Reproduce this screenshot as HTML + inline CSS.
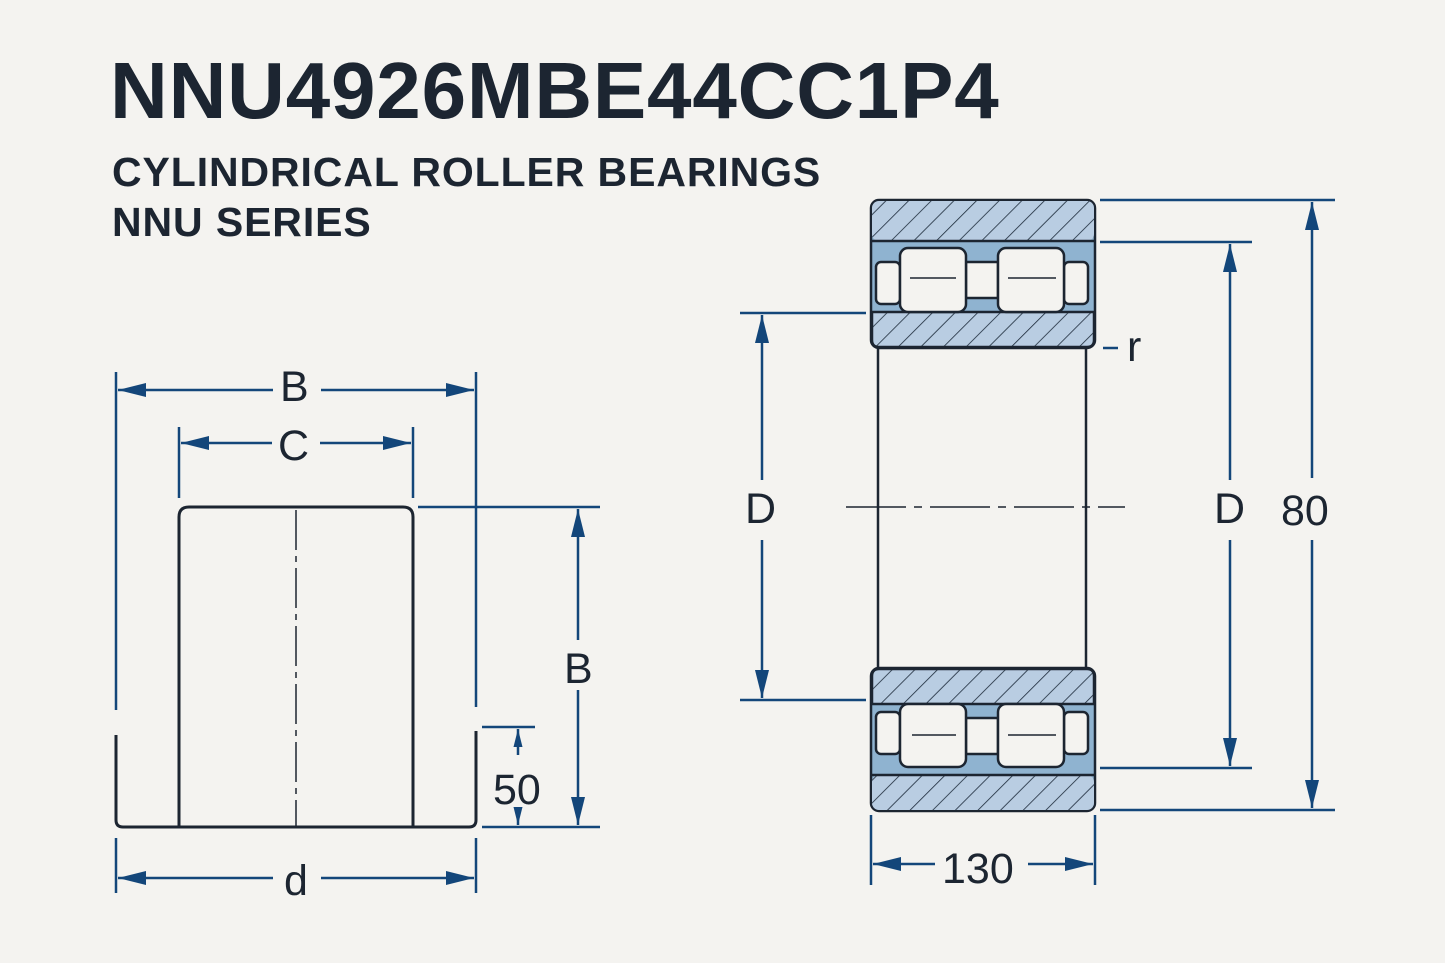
<!DOCTYPE html>
<html><head><style>
html,body{margin:0;padding:0;background:#f4f3f0;}
svg{display:block}
text{font-family:"Liberation Sans",sans-serif;fill:#1c2531}
</style></head><body>
<svg width="1445" height="963" viewBox="0 0 1445 963" xmlns="http://www.w3.org/2000/svg">
<defs>
<pattern id="h" patternUnits="userSpaceOnUse" width="16" height="16" patternTransform="rotate(45)">
<rect width="16" height="16" fill="#b9cde2"/>
<line x1="0" y1="0" x2="0" y2="16" stroke="#1c2a3a" stroke-width="1.6"/>
</pattern>
<marker id="ab" viewBox="0 0 20 10" refX="20" refY="5" markerWidth="28" markerHeight="14" markerUnits="userSpaceOnUse" orient="auto-start-reverse"><path d="M0,0L20,5L0,10z" fill="#13467a"/></marker>
<marker id="as" viewBox="0 0 20 10" refX="20" refY="5" markerWidth="18" markerHeight="12" markerUnits="userSpaceOnUse" orient="auto-start-reverse"><path d="M0,0L20,5L0,10z" fill="#13467a"/></marker>
</defs>
<text x="110" y="118" font-size="80" font-weight="bold" letter-spacing="0.8">NNU4926MBE44CC1P4</text>
<text x="112" y="186" font-size="41" font-weight="bold" letter-spacing="0.9">CYLINDRICAL ROLLER BEARINGS</text>
<text x="112" y="236" font-size="41" font-weight="bold" letter-spacing="0.9">NNU SERIES</text>

<g stroke="#13467a" stroke-width="2.5" fill="none">
<line x1="116" y1="372" x2="116" y2="710"/>
<line x1="476" y1="372" x2="476" y2="707"/>
<line x1="118" y1="390" x2="273" y2="390" marker-start="url(#ab)"/>
<line x1="321" y1="390" x2="474" y2="390" marker-end="url(#ab)"/>
<line x1="179" y1="427" x2="179" y2="498"/>
<line x1="413" y1="427" x2="413" y2="498"/>
<line x1="181" y1="443" x2="272" y2="443" marker-start="url(#ab)"/>
<line x1="320" y1="443" x2="411" y2="443" marker-end="url(#ab)"/>
<line x1="418" y1="507" x2="600" y2="507"/>
<line x1="578" y1="509" x2="578" y2="640" marker-start="url(#ab)"/>
<line x1="578" y1="690" x2="578" y2="825" marker-end="url(#ab)"/>
<line x1="482" y1="827" x2="600" y2="827"/>
<line x1="482" y1="727" x2="535" y2="727"/>
<line x1="518" y1="729" x2="518" y2="755" marker-start="url(#as)"/>
<line x1="518" y1="807" x2="518" y2="825" marker-end="url(#as)"/>
<line x1="116" y1="838" x2="116" y2="893"/>
<line x1="476" y1="838" x2="476" y2="893"/>
<line x1="118" y1="878" x2="273" y2="878" marker-start="url(#ab)"/>
<line x1="321" y1="878" x2="474" y2="878" marker-end="url(#ab)"/>
<line x1="740" y1="313" x2="866" y2="313"/>
<line x1="740" y1="700" x2="866" y2="700"/>
<line x1="762" y1="315" x2="762" y2="480" marker-start="url(#ab)"/>
<line x1="762" y1="540" x2="762" y2="698" marker-end="url(#ab)"/>
<line x1="1100" y1="200" x2="1335" y2="200"/>
<line x1="1100" y1="810" x2="1335" y2="810"/>
<line x1="1312" y1="202" x2="1312" y2="478" marker-start="url(#ab)"/>
<line x1="1312" y1="540" x2="1312" y2="808" marker-end="url(#ab)"/>
<line x1="1100" y1="242" x2="1252" y2="242"/>
<line x1="1100" y1="768" x2="1252" y2="768"/>
<line x1="1230" y1="244" x2="1230" y2="480" marker-start="url(#ab)"/>
<line x1="1230" y1="540" x2="1230" y2="766" marker-end="url(#ab)"/>
<line x1="1103" y1="348" x2="1118" y2="348"/>
<line x1="871" y1="815" x2="871" y2="885"/>
<line x1="1095" y1="815" x2="1095" y2="885"/>
<line x1="873" y1="864" x2="935" y2="864" marker-start="url(#ab)"/>
<line x1="1028" y1="864" x2="1093" y2="864" marker-end="url(#ab)"/>
</g>
<g font-size="43">
<text x="280" y="401">B</text>
<text x="278" y="460">C</text>
<text x="564" y="683">B</text>
<text x="493" y="804">50</text>
<text x="284" y="895">d</text>
<text x="745" y="523">D</text>
<text x="1214" y="523">D</text>
<text x="1281" y="525">80</text>
<text x="1127" y="361">r</text>
<text x="942" y="883">130</text>
</g>

<g stroke="#1c2531" stroke-width="3" fill="none">
<path d="M116,735 V820 Q116,827 123,827 H469 Q476,827 476,820 V731"/>
<path d="M179,827 V517 Q179,507 189,507 H403 Q413,507 413,517 V827"/>
<line x1="296" y1="510" x2="296" y2="827" stroke-width="1.5" stroke-dasharray="40,6,6,6"/>
</g>

<g stroke="#1c2531" stroke-width="2.5">
<rect x="878" y="345" width="208" height="326" fill="#f4f3f0"/>
<line x1="846" y1="507" x2="1125" y2="507" stroke-width="1.5" stroke-dasharray="60,8,8,8"/>
<rect x="871" y="200" width="224" height="148" rx="8" fill="#8fb3d0"/>
<rect x="872" y="201" width="222" height="40" rx="7" fill="url(#h)" stroke="none"/>
<line x1="871" y1="241" x2="1095" y2="241"/>
<path d="M872,312 H1094 V340 Q1094,347 1087,347 H879 Q872,347 872,340Z" fill="url(#h)"/>
<rect x="966" y="262" width="32" height="36" fill="#f4f3f0"/>
<rect x="876" y="262" width="24" height="42" rx="5" fill="#f4f3f0"/>
<rect x="1064" y="262" width="24" height="42" rx="5" fill="#f4f3f0"/>
<rect x="900" y="248" width="66" height="64" rx="8" fill="#f4f3f0"/>
<rect x="998" y="248" width="66" height="64" rx="8" fill="#f4f3f0"/>
<line x1="910" y1="278" x2="956" y2="278" stroke-width="1.5"/>
<line x1="1008" y1="278" x2="1056" y2="278" stroke-width="1.5"/>
<rect x="871" y="668" width="224" height="143" rx="8" fill="#8fb3d0"/>
<path d="M872,704 H1094 V676 Q1094,669 1087,669 H879 Q872,669 872,676Z" fill="url(#h)"/>
<rect x="872" y="775" width="222" height="35" rx="7" fill="url(#h)" stroke="none"/>
<line x1="871" y1="775" x2="1095" y2="775"/>
<rect x="966" y="718" width="32" height="36" fill="#f4f3f0"/>
<rect x="876" y="712" width="24" height="42" rx="5" fill="#f4f3f0"/>
<rect x="1064" y="712" width="24" height="42" rx="5" fill="#f4f3f0"/>
<rect x="900" y="704" width="66" height="63" rx="8" fill="#f4f3f0"/>
<rect x="998" y="704" width="66" height="63" rx="8" fill="#f4f3f0"/>
<line x1="912" y1="735" x2="956" y2="735" stroke-width="1.5"/>
<line x1="1008" y1="735" x2="1056" y2="735" stroke-width="1.5"/>
</g>
</svg>
</body></html>
